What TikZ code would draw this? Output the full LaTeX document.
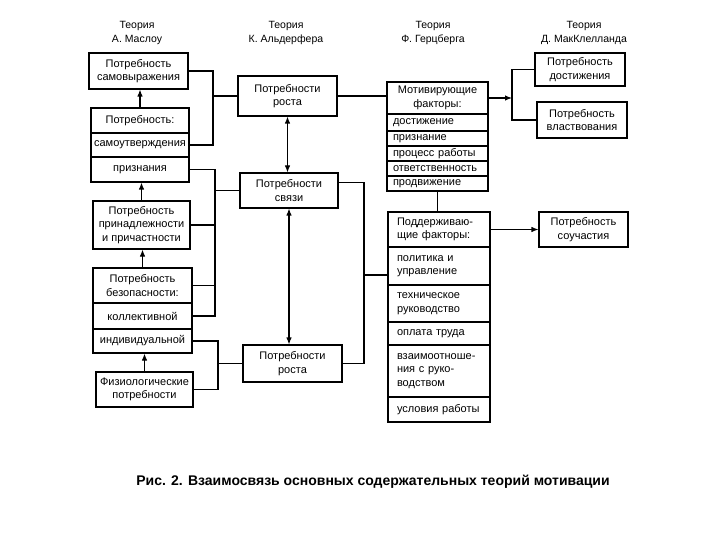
\documentclass[tikz,border=0pt]{standalone}
\usepackage{fontspec}
\setmainfont{Liberation Sans}
\usetikzlibrary{arrows.meta,calc}
\begin{document}
\begin{tikzpicture}[x=1pt,y=-1pt,
  ln/.style={line width=1.1pt},
  arr/.style={ln,-{Latex[length=7pt,width=5.5pt]}},
  darr/.style={ln,{Latex[length=7pt,width=5.5pt]}-{Latex[length=7pt,width=5.5pt]}},
  bx/.style={draw,line width=1.1pt,inner xsep=2pt,inner ysep=1pt,align=center,
    font=\fontsize{11}{13.5}\selectfont},
  lrow/.style={bx,align=left,inner xsep=#1},
  ttl/.style={align=center,font=\fontsize{10.5}{14}\selectfont},
  capt/.style={font=\bfseries\fontsize{14}{16}\selectfont}]
\fill[white,use as bounding box] (0,0) rectangle (720,540);

% titles
\node[ttl] (t1) at (137,33) {Теория\\А. Маслоу};
\node[ttl] (t2) at (286,33) {Теория\\К. Альдерфера};
\node[ttl] (t3) at (433,33) {Теория\\Ф. Герцберга};
\node[ttl] (t4) at (584,33) {Теория\\Д. МакКлелланда};

% Maslow
\node[bx,minimum width=99pt,minimum height=36pt] (m1) at (138.5,71) {Потребность\\самовыражения};
\node[bx,minimum width=98pt,minimum height=25pt] (m2a) at (140,120.5) {Потребность:};
\node[bx,minimum width=98pt,minimum height=24pt] (m2b) at (140,145) {самоутверждения};
\node[bx,minimum width=98pt,minimum height=25pt] (m2c) at (140,169.5) {признания};
\node[bx,minimum width=97pt,minimum height=48pt] (m3) at (141.5,225) {Потребность\\принадлежности\\и причастности};
\node[bx,minimum width=99pt,minimum height=35pt] (m4a) at (142.5,285.5) {Потребность\\безопасности:};
\node[bx,minimum width=99pt,minimum height=26pt] (m4b) at (142.5,316) {коллективной};
\node[bx,minimum width=99pt,minimum height=24pt] (m4c) at (142.5,341) {индивидуальной};
\node[bx,minimum width=97pt,minimum height=35pt] (m5) at (144.5,389.5) {Физиологические\\потребности};

\draw[arr] (m2a.north) -- (m2a.north |- m1.south);
\draw[arr] (m3.north) -- (m3.north |- m2c.south);
\draw[arr] (m4a.north) -- (m4a.north |- m3.south);
\draw[arr] (m5.north) -- (m5.north |- m4c.south);

% Alderfer
\node[bx,minimum width=99pt,minimum height=40pt] (a1) at (287.5,96) {Потребности\\роста};
\node[bx,minimum width=98pt,minimum height=35pt] (a2) at (289,190.5) {Потребности\\связи};
\node[bx,minimum width=99pt,minimum height=37pt] (a3) at (292.5,363.5) {Потребности\\роста};
\draw[darr] (a1.south) -- (a1.south |- a2.north);
\draw[darr] (a2.south) -- (a2.south |- a3.north);

% Maslow -> Alderfer brackets
\coordinate (j1) at (213,96);
\draw[ln] (m1.east) -- (m1.east -| j1) -- (m2b.east -| j1) -- (m2b.east);
\draw[ln] (j1) -- (a1.west);
\coordinate (j2) at (215,190.5);
\draw[ln] (m2c.east) -- (m2c.east -| j2) -- (m4b.east -| j2) -- (m4b.east);
\draw[ln] (m3.east) -- (m3.east -| j2);
\draw[ln] (m4a.east) -- (m4a.east -| j2);
\draw[ln] (j2) -- (a2.west);
\coordinate (j3) at (218,363.5);
\draw[ln] (m4c.east) -- (m4c.east -| j3) -- (m5.east -| j3) -- (m5.east);
\draw[ln] (j3) -- (a3.west);

% Herzberg
\node[bx,minimum width=101pt,minimum height=32pt] (hm0) at (437.5,98) {Мотивирующие\\факторы:};
\node[lrow=6pt,text width=89pt,minimum height=17pt] (hm1) at (437.5,122.5) {достижение};
\node[lrow=6pt,text width=89pt,minimum height=15pt] (hm2) at (437.5,138.5) {признание};
\node[lrow=6pt,text width=89pt,minimum height=15pt] (hm3) at (437.5,153.5) {процесс работы};
\node[lrow=6pt,text width=89pt,minimum height=15pt] (hm4) at (437.5,168.5) {ответственность};
\node[lrow=6pt,text width=89pt,minimum height=15pt] (hm5) at (437.5,183.5) {продвижение};

\node[lrow=9pt,text width=84pt,minimum height=35pt] (hs0) at (439,229.5) {Поддерживаю-\\щие факторы:};
\node[lrow=9pt,text width=84pt,minimum height=38pt] (hs1) at (439,266) {политика и\\управление};
\node[lrow=9pt,text width=84pt,minimum height=37pt] (hs2) at (439,303.5) {техническое\\руководство};
\node[lrow=9pt,text width=84pt,minimum height=23pt] (hs3) at (439,333.5) {оплата труда};
\node[lrow=9pt,text width=84pt,minimum height=52pt] (hs4) at (439,371) {взаимоотноше-\\ния с руко-\\водством};
\node[lrow=9pt,text width=84pt,minimum height=25pt] (hs5) at (439,409.5) {условия работы};

\draw[ln] (hm5.south) -- (hm5.south |- hs0.north);

% Alderfer -> Herzberg
\draw[ln] (a1.east) -- (a1.east -| hm0.west);
\coordinate (a2r) at ([yshift=8pt]a2.east);
\coordinate (j4) at (364,275);
\draw[ln] (a2r) -- (a2r -| j4) -- (a3.east -| j4) -- (a3.east);
\draw[ln] (j4) -- (j4 -| hs1.west);

% McClelland
\node[bx,minimum width=90pt,minimum height=33pt] (mc1) at (580,69.5) {Потребность\\достижения};
\node[bx,minimum width=90pt,minimum height=36pt] (mc2) at (582,120) {Потребность\\властвования};
\node[bx,minimum width=89pt,minimum height=35pt] (mc3) at (583.5,229.5) {Потребность\\соучастия};

\coordinate (jm) at (512,98);
\draw[ln] (mc1.west) -- (mc1.west -| jm) -- (mc2.west -| jm) -- (mc2.west);
\draw[arr] (hm0.east) -- (jm);
\draw[arr] (hs0.east) -- (hs0.east -| mc3.west);

% caption
\node[capt] (cap) at (373,482) {Рис. 2. Взаимосвязь основных содержательных теорий мотивации};
\end{tikzpicture}
\end{document}
